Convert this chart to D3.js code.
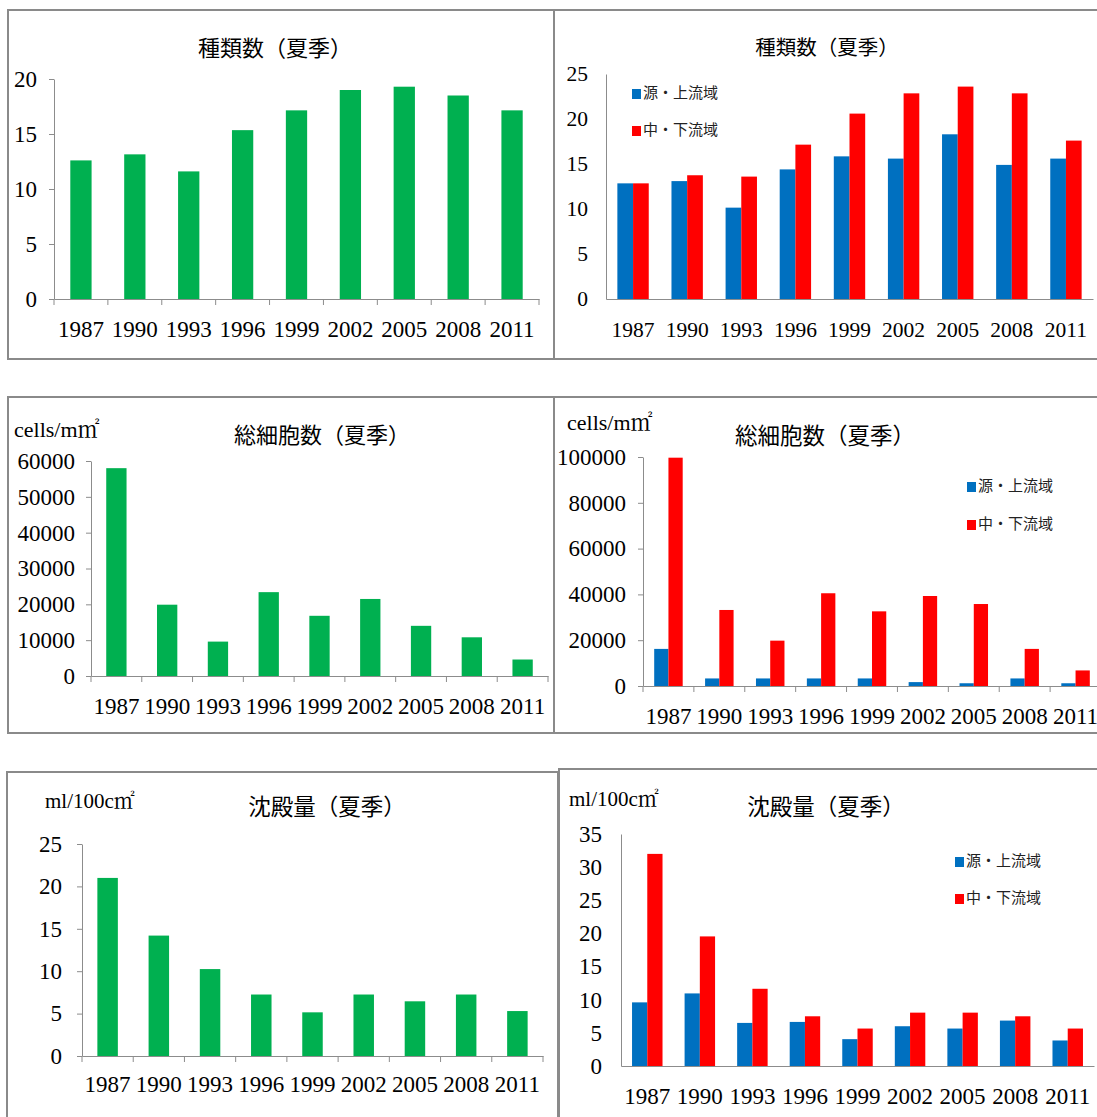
<!DOCTYPE html>
<html>
<head>
<meta charset="utf-8">
<script src="https://cdn.jsdelivr.net/npm/d3@7"></script>
<style>
  html, body { margin: 0; padding: 0; background: #fff; }
  svg { display: block; }
</style>
</head>
<body>
<svg id="chart" width="1097" height="1117"></svg>
<script>
// ---- data ----------------------------------------------------------------
const years = ["1987", "1990", "1993", "1996", "1999", "2002", "2005", "2008", "2011"];
const seriesNames = ["源・上流域", "中・下流域"];

// 種類数（夏季）
const speciesTotal = [12.6, 13.15, 11.6, 15.35, 17.15, 19.0, 19.3, 18.5, 17.15];
const speciesUpper = [12.85, 13.1, 10.15, 14.4, 15.85, 15.6, 18.3, 14.9, 15.6];
const speciesLower = [12.85, 13.75, 13.6, 17.15, 20.6, 22.85, 23.6, 22.85, 17.6];
const speciesTicksTotal = [0, 5, 10, 15, 20];
const speciesTicksSplit = [0, 5, 10, 15, 20, 25];

// 総細胞数（夏季） cells/m㎡
const cellsTotal = [58000, 19900, 9600, 23400, 16800, 21500, 14000, 10800, 4600];
const cellsUpper = [16200, 3300, 3300, 3300, 3300, 1700, 1200, 3300, 1200];
const cellsLower = [99700, 33200, 19800, 40500, 32600, 39300, 35800, 16200, 6800];
const cellsTicksTotal = [0, 10000, 20000, 30000, 40000, 50000, 60000];
const cellsTicksSplit = [0, 20000, 40000, 60000, 80000, 100000];

// 沈殿量（夏季） ml/100c㎡
const sedimentTotal = [21.0, 14.2, 10.25, 7.25, 5.15, 7.25, 6.45, 7.25, 5.3];
const sedimentUpper = [9.6, 10.95, 6.5, 6.65, 4.05, 6.0, 5.65, 6.85, 3.85];
const sedimentLower = [32.0, 19.55, 11.65, 7.5, 5.65, 8.05, 8.05, 7.5, 5.65];
const sedimentTicksTotal = [0, 5, 10, 15, 20, 25];
const sedimentTicksSplit = [0, 5, 10, 15, 20, 25, 30, 35];

const titleSpecies = "種類数（夏季）";
const titleCells = "総細胞数（夏季）";
const titleSediment = "沈殿量（夏季）";
const unitCells = "cells/m㎡";
const unitSediment = "ml/100c㎡";

// ---- styling -------------------------------------------------------------
const GREEN = "#00B050", BLUE = "#0070C0", RED = "#FF0000";
const FRAME = "#8a8a8a", AXIS = "#8c8c8c";
const NUM_FONT = '"Liberation Serif", "Times New Roman", serif';
const JP_FONT = '"Noto Sans CJK JP", "Noto Sans", sans-serif';
const UNIT_FONT = '"Liberation Serif", "Noto Serif CJK JP", serif';

// ---- panel layouts ---------------------------------------------------------
const panels = [
  { frame: [8, 10, 546, 349], plot: { left: 54, right: 539, top: 79, bottom: 299 },
    title: titleSpecies, titleX: 275, titleY: 56, titleSize: 22,
    series: [speciesTotal], colors: [GREEN], ticks: speciesTicksTotal,
    barRatio: 0.395, yTick: 5, xTicks: true, yLabelGap: 12, fontSize: 23, xLabelOffset: 38 },
  { frame: [554, 10, 560, 349], plot: { left: 606, right: 1093, top: 74, bottom: 299 },
    title: titleSpecies, titleX: 827, titleY: 55, titleSize: 20.5,
    series: [speciesUpper, speciesLower], colors: [BLUE, RED], ticks: speciesTicksSplit,
    barRatio: 0.58, yTick: 0, xTicks: false, yLabelGap: 18, fontSize: 21.5, xLabelOffset: 38,
    legend: { x: 632, y: 89, dy: 37 } },
  { frame: [8, 397, 546, 336], plot: { left: 91, right: 548, top: 461, bottom: 676 },
    title: titleCells, titleX: 322, titleY: 443, titleSize: 22,
    unit: unitCells, unitX: 14, unitY: 437, unitSize: 22,
    series: [cellsTotal], colors: [GREEN], ticks: cellsTicksTotal,
    barRatio: 0.40, yTick: 5, xTicks: true, yLabelGap: 11, fontSize: 23, xLabelOffset: 38 },
  { frame: [554, 397, 560, 336], plot: { left: 643, right: 1101, top: 457, bottom: 686 },
    title: titleCells, titleX: 825, titleY: 444, titleSize: 22.5,
    unit: unitCells, unitX: 567, unitY: 430, unitSize: 22,
    series: [cellsUpper, cellsLower], colors: [BLUE, RED], ticks: cellsTicksSplit,
    barRatio: 0.56, yTick: 5, xTicks: true, yLabelGap: 12, fontSize: 23, xLabelOffset: 38,
    legend: { x: 967, y: 482, dy: 38 } },
  { frame: [7, 772, 551, 360], plot: { left: 82, right: 543, top: 844, bottom: 1056 },
    title: titleSediment, titleX: 327, titleY: 815, titleSize: 22.5,
    unit: unitSediment, unitX: 45, unitY: 808, unitSize: 21,
    series: [sedimentTotal], colors: [GREEN], ticks: sedimentTicksTotal,
    barRatio: 0.40, yTick: 5, xTicks: true, yLabelGap: 15, fontSize: 23, xLabelOffset: 36 },
  { frame: [559, 769, 560, 360], plot: { left: 621, right: 1094, top: 834, bottom: 1066 },
    title: titleSediment, titleX: 826, titleY: 815, titleSize: 22.5,
    unit: unitSediment, unitX: 569, unitY: 806, unitSize: 21,
    series: [sedimentUpper, sedimentLower], colors: [BLUE, RED], ticks: sedimentTicksSplit,
    barRatio: 0.58, yTick: 0, xTicks: false, yLabelGap: 19, fontSize: 23, xLabelOffset: 38,
    legend: { x: 955, y: 857, dy: 37 } }
];

const svg = d3.select("#chart");

function styleText(sel, family, size, fill) {
  sel.style("font-family", family).style("font-size", size + "px").attr("fill", fill);
}

function drawPanel(p) {
  const g = svg.append("g");
  const [fx, fy, fw, fh] = p.frame;

  // frame
  g.append("rect")
    .attr("x", fx).attr("y", fy).attr("width", fw).attr("height", fh)
    .attr("fill", "none").attr("stroke", FRAME).attr("stroke-width", 2);

  const x = d3.scaleBand().domain(years).range([p.plot.left, p.plot.right]).padding(0);
  const y = d3.scaleLinear().domain([0, d3.max(p.ticks)]).range([p.plot.bottom, p.plot.top]);

  // bars
  const groupW = x.step() * p.barRatio;
  const inner = d3.scaleBand().domain(d3.range(p.series.length)).range([0, groupW]).padding(0);
  p.series.forEach((vals, si) => {
    g.append("g").selectAll("rect")
      .data(vals.map((v, i) => ({ year: years[i], v })))
      .join("rect")
      .attr("x", d => x(d.year) + (x.step() - groupW) / 2 + inner(si))
      .attr("y", d => y(d.v))
      .attr("width", inner.bandwidth())
      .attr("height", d => y(0) - y(d.v))
      .attr("fill", p.colors[si]);
  });

  // y axis
  const yAxis = d3.axisLeft(y).tickValues(p.ticks).tickFormat(d3.format("d"))
    .tickSize(p.yTick).tickSizeOuter(0).tickPadding(p.yLabelGap);
  const ya = g.append("g").attr("transform", `translate(${p.plot.left},0)`).call(yAxis);
  ya.select(".domain").attr("stroke", AXIS);
  ya.selectAll(".tick line").attr("stroke", AXIS);
  styleText(ya.selectAll("text"), NUM_FONT, p.fontSize, "#000");

  // x axis (labels centred in categories)
  const pad = p.xLabelOffset - 0.71 * p.fontSize;
  const xAxis = d3.axisBottom(x).tickSize(0).tickSizeOuter(0).tickPadding(pad);
  const xa = g.append("g").attr("transform", `translate(0,${p.plot.bottom})`).call(xAxis);
  xa.select(".domain").attr("stroke", AXIS);
  styleText(xa.selectAll("text"), NUM_FONT, p.fontSize, "#000");

  // category boundary tick marks
  if (p.xTicks) {
    const bounds = years.map(yr => x(yr)).concat([p.plot.right]);
    g.append("g").selectAll("line").data(bounds).join("line")
      .attr("x1", d => d).attr("x2", d => d)
      .attr("y1", p.plot.bottom).attr("y2", p.plot.bottom + 6)
      .attr("stroke", AXIS);
  }

  // title
  const t = g.append("text")
    .attr("x", p.titleX).attr("y", p.titleY)
    .attr("text-anchor", "middle")
    .text(p.title);
  styleText(t, JP_FONT, p.titleSize, "#000");

  // unit
  if (p.unit) {
    const u = g.append("text").attr("x", p.unitX).attr("y", p.unitY).text(p.unit);
    styleText(u, UNIT_FONT, p.unitSize, "#000");
  }

  // legend
  if (p.legend) {
    seriesNames.forEach((name, i) => {
      const ly = p.legend.y + i * p.legend.dy;
      g.append("rect").attr("x", p.legend.x).attr("y", ly)
        .attr("width", 9).attr("height", 10).attr("fill", p.colors[i]);
      const lt = g.append("text")
        .attr("x", p.legend.x + 11).attr("y", ly + 9)
        .text(name);
      styleText(lt, JP_FONT, 15, "#222");
    });
  }
}

panels.forEach(drawPanel);
</script>
</body>
</html>
